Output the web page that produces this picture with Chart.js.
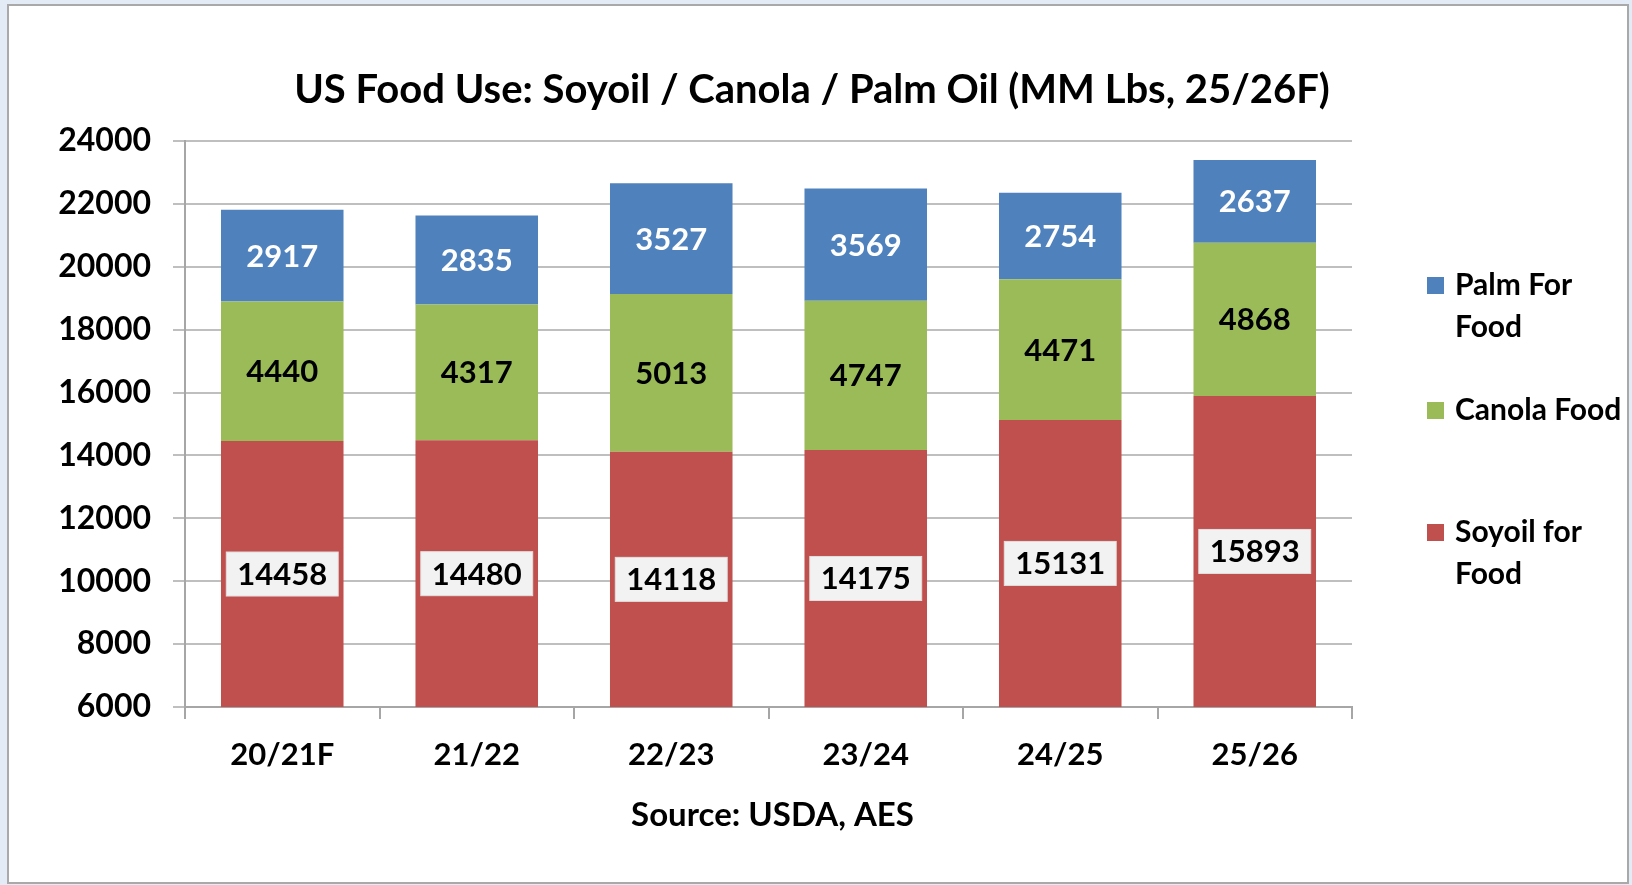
<!DOCTYPE html>
<html lang="en">
<head>
    <meta charset="UTF-8">
    <title>US Food Use: Soyoil / Canola / Palm Oil</title>
    <script src="https://cdn.jsdelivr.net/npm/chart.js"></script>
    <style>
        html, body { margin: 0; padding: 0; background: #e3ecf6; overflow: hidden; }
        #wrap { position: absolute; left: 0; top: 0; width: 1632px; height: 885px; }
    </style>
</head>
<body>
    <div id="wrap"><canvas id="foodChart"></canvas></div>

    <script>
        // data
        const years = ['20/21F', '21/22', '22/23', '23/24', '24/25', '25/26'];
        const soyoilFood = [14458, 14480, 14118, 14175, 15131, 15893];
        const canolaFood = [4440, 4317, 5013, 4747, 4471, 4868];
        const palmFood = [2917, 2835, 3527, 3569, 2754, 2637];

        const yMin = 6000, yMax = 24000, yStep = 2000;
        const chartTitle = 'US Food Use: Soyoil / Canola / Palm Oil (MM Lbs, 25/26F)';
        const sourceText = 'Source: USDA, AES';
        const FONT = 'Lato, "Open Sans", sans-serif';

        // white frame with grey border behind everything
        const framePlugin = {
            id: 'frame',
            beforeDraw(chart) {
                const ctx = chart.ctx;
                ctx.save();
                ctx.fillStyle = '#ffffff';
                ctx.fillRect(8, 5, 1620, 878);
                ctx.strokeStyle = '#a9a9a9';
                ctx.lineWidth = 2;
                ctx.strokeRect(8, 5, 1620, 878);
                ctx.restore();
            }
        };

        // value labels, title, source line and the legend on the right
        const labelsPlugin = {
            id: 'labels',
            afterDatasetsDraw(chart) {
                const ctx = chart.ctx;
                const area = chart.chartArea;
                ctx.save();
                ctx.font = 'bold 31px ' + FONT;
                ctx.textAlign = 'center';
                ctx.textBaseline = 'middle';
                chart.data.datasets.forEach((ds, i) => {
                    const meta = chart.getDatasetMeta(i);
                    meta.data.forEach((bar, j) => {
                        const base = Math.min(bar.base, area.bottom);
                        const top = Math.max(bar.y, area.top);
                        const cx = bar.x;
                        const cy = (base + top) / 2;
                        const txt = String(ds.data[j]);
                        if (ds.labelBox) {
                            const w = ctx.measureText(txt).width + 22;
                            const h = 44;
                            ctx.fillStyle = '#f2f2f2';
                            ctx.fillRect(cx - w / 2, cy - h / 2, w, h);
                            ctx.strokeStyle = '#e0e0e0';
                            ctx.lineWidth = 1;
                            ctx.strokeRect(cx - w / 2, cy - h / 2, w, h);
                        }
                        ctx.fillStyle = ds.labelColor;
                        ctx.fillText(txt, cx, cy + 1);
                    });
                });
                ctx.restore();
            },
            afterDraw(chart) {
                const ctx = chart.ctx;
                const area = chart.chartArea;
                ctx.save();
                ctx.fillStyle = '#000000';
                ctx.textAlign = 'center';
                ctx.textBaseline = 'middle';

                ctx.font = 'bold 40px ' + FONT;
                ctx.fillText(chartTitle, 812, 90);

                ctx.font = 'bold 33px ' + FONT;
                ctx.fillText(sourceText, (area.left + area.right) / 2 + 4, 815);

                // legend, top-down: palm, canola, soyoil
                ctx.textAlign = 'left';
                ctx.font = 'bold 30px ' + FONT;
                const legendRows = [
                    { ds: 2, lines: ['Palm For', 'Food'], y: 285 },
                    { ds: 1, lines: ['Canola Food'], y: 410 },
                    { ds: 0, lines: ['Soyoil for', 'Food'], y: 532 }
                ];
                legendRows.forEach(row => {
                    const ds = chart.data.datasets[row.ds];
                    ctx.fillStyle = ds.backgroundColor;
                    ctx.fillRect(1427, row.y - 8, 17, 17);
                    ctx.fillStyle = '#000000';
                    row.lines.forEach((ln, k) => {
                        ctx.fillText(ln, 1455, row.y + k * 42);
                    });
                });
                ctx.restore();
            }
        };

        const ctxFood = document.getElementById('foodChart').getContext('2d');
        const foodChart = new Chart(ctxFood, {
            type: 'bar',
            data: {
                labels: years,
                datasets: [
                    {
                        label: 'Soyoil for Food',
                        data: soyoilFood,
                        backgroundColor: '#c0504d',
                        labelColor: '#000000',
                        labelBox: true
                    },
                    {
                        label: 'Canola Food',
                        data: canolaFood,
                        backgroundColor: '#9bbb59',
                        labelColor: '#000000'
                    },
                    {
                        label: 'Palm For Food',
                        data: palmFood,
                        backgroundColor: '#4f81bd',
                        labelColor: '#ffffff'
                    }
                ]
            },
            options: {
                responsive: true,
                maintainAspectRatio: false,
                animation: false,
                layout: {
                    padding: { left: 0, top: 141, right: 280, bottom: 0 }
                },
                datasets: {
                    bar: {
                        categoryPercentage: 1.0,
                        barPercentage: 0.63,
                        borderWidth: 0
                    }
                },
                plugins: {
                    legend: { display: false },
                    title: { display: false },
                    tooltip: { enabled: false }
                },
                scales: {
                    x: {
                        stacked: true,
                        afterFit(scale) { scale.height = 178; },
                        grid: {
                            drawOnChartArea: false,
                            drawTicks: true,
                            tickLength: 12,
                            color: '#a6a6a6',
                            lineWidth: 2
                        },
                        border: { color: '#a6a6a6', width: 2 },
                        ticks: {
                            color: '#000000',
                            padding: 17,
                            font: { family: FONT, size: 31, weight: 'bold' }
                        }
                    },
                    y: {
                        stacked: true,
                        min: yMin,
                        max: yMax,
                        afterFit(scale) { scale.width = 185; },
                        grid: {
                            color: '#bfbfbf',
                            lineWidth: 2,
                            drawTicks: true,
                            tickLength: 12
                        },
                        border: { color: '#a6a6a6', width: 2 },
                        ticks: {
                            stepSize: yStep,
                            color: '#000000',
                            padding: 22,
                            callback: v => String(v),
                            font: { family: FONT, size: 32, weight: 'bold' }
                        }
                    }
                }
            },
            plugins: [framePlugin, labelsPlugin]
        });
    </script>
</body>
</html>
